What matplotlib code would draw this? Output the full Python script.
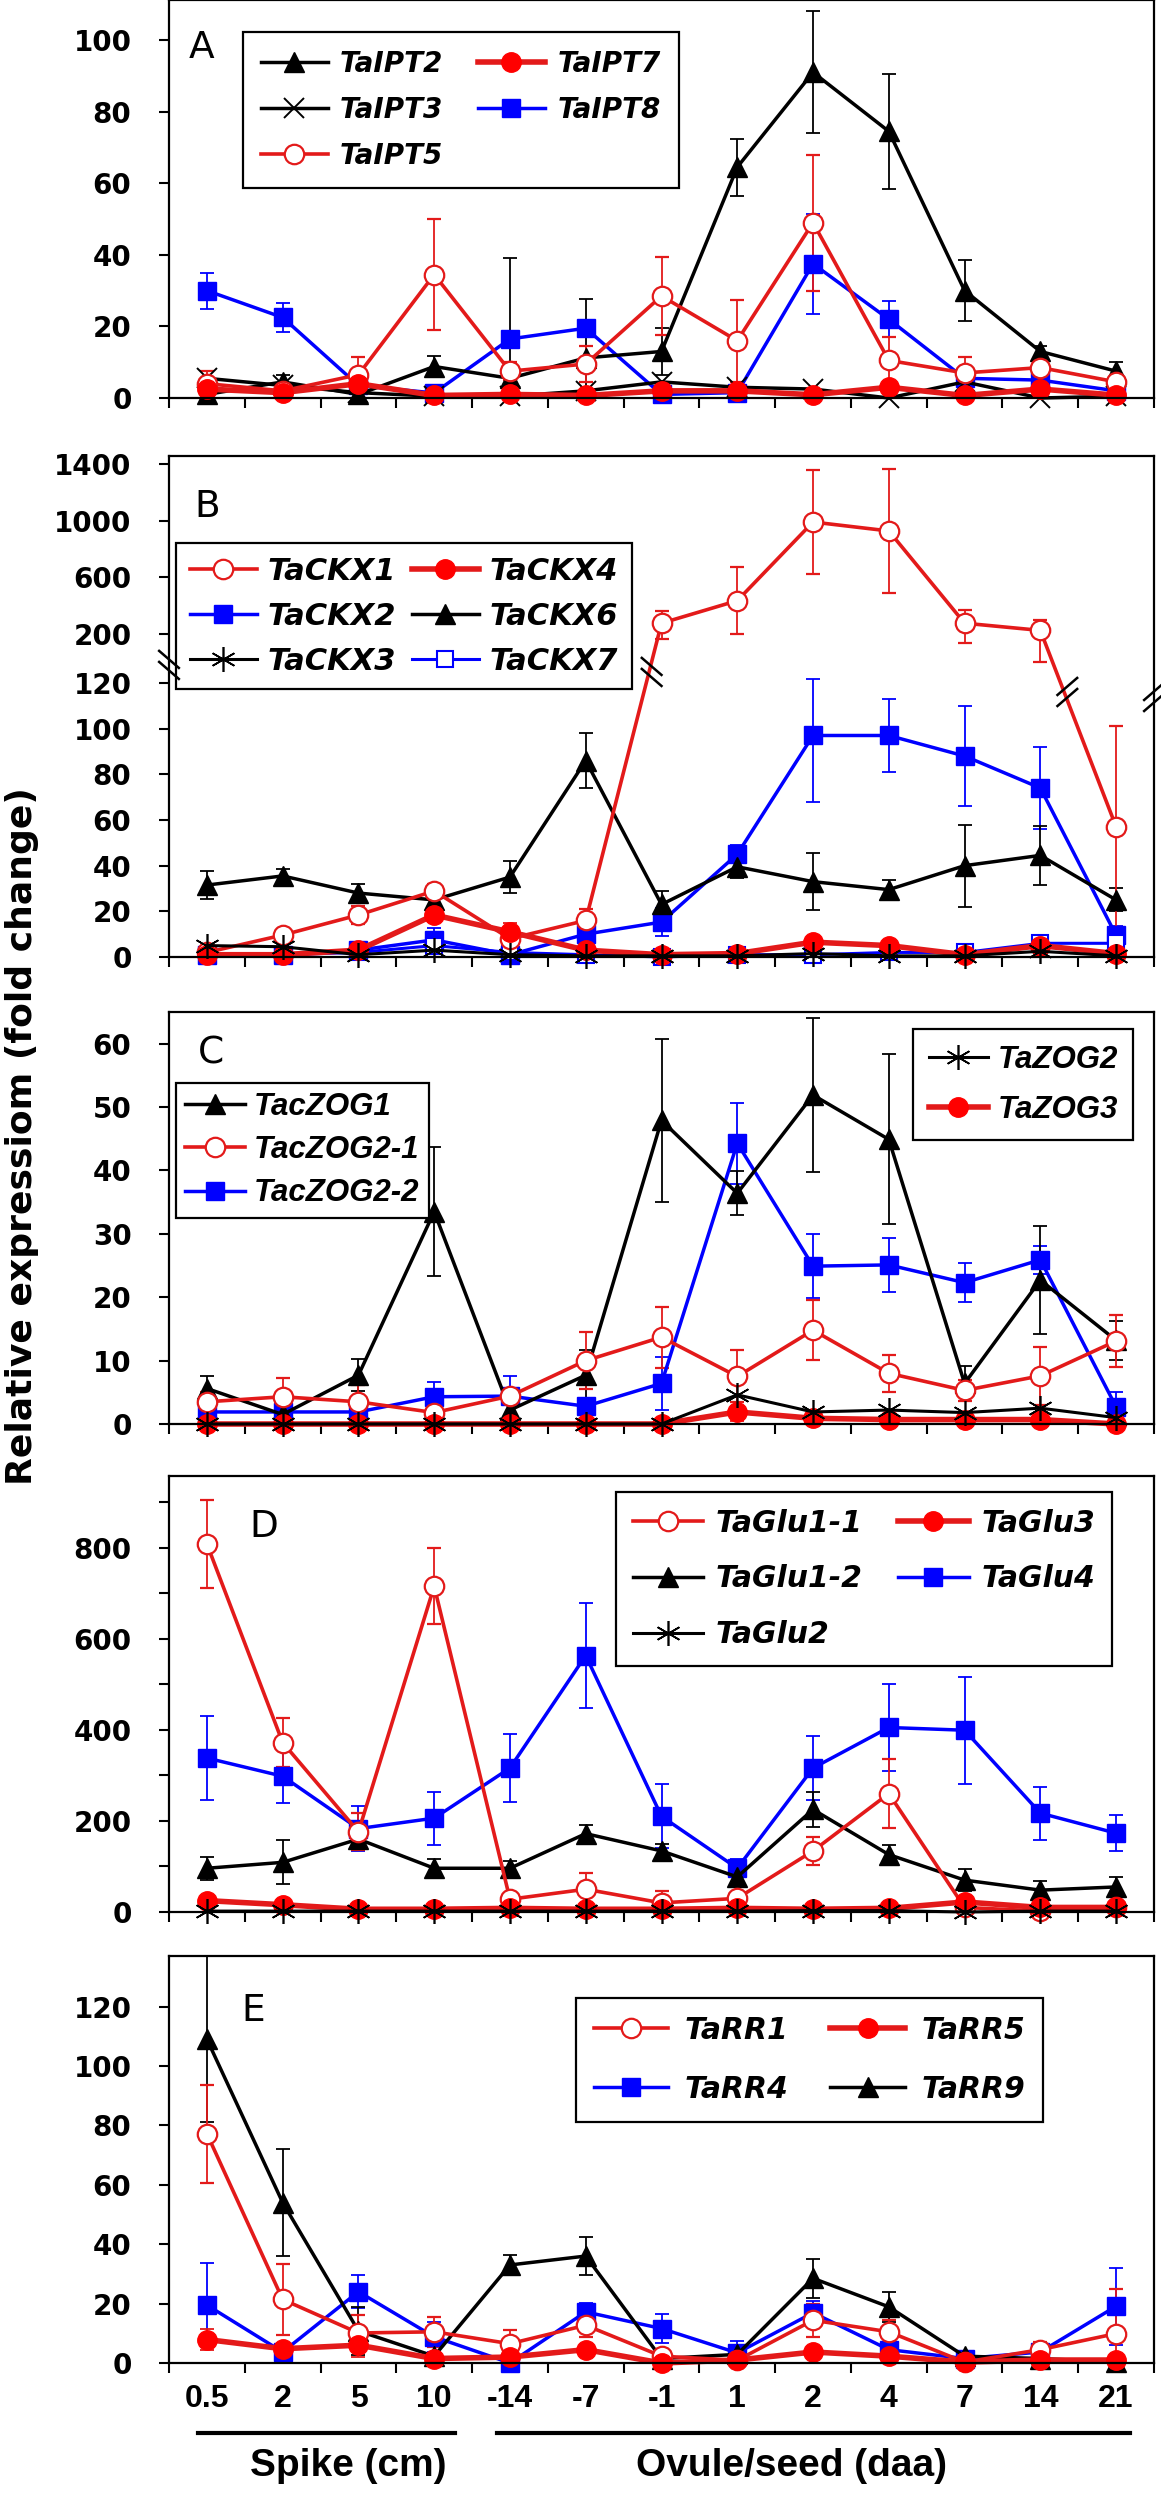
import numpy as np
import matplotlib
matplotlib.use("Agg")
import matplotlib.pyplot as plt
import matplotlib.transforms as mtransforms

plt.rcParams["font.family"] = "DejaVu Sans"
plt.rcParams["font.weight"] = "bold"

stages = ["0.5", "2", "5", "10", "-14", "-7", "-1", "1", "2", "4", "7", "14", "21"]
x = np.arange(len(stages))

# panel A - IPT
ipt2 = [1, 4.5, 1, 8.8, 5.5, 11.2, 13, 64.5, 91, 74.5, 30, 13, 7.5]
ipt2_err = [0, 2, 0, 3, 33.5, 16.5, 6.5, 8, 17, 16, 8.5, 1.5, 2.5]
ipt3 = [5.5, 3.5, 1.5, 0.5, 0.5, 2, 4.5, 3, 2.5, 0, 4.5, 0, 0.5]
ipt5 = [4, 2, 6.5, 34.5, 7.5, 9.5, 28.5, 16, 49, 10.5, 7, 8.5, 4.5]
ipt5_err = [3.5, 1, 5, 15.5, 2.5, 5, 11, 11.5, 19, 6.5, 4.5, 2, 1.5]
ipt7 = [2.5, 1.5, 4, 0.7, 1, 0.7, 2, 2, 0.9, 3, 0.7, 2.5, 0.8]
ipt8 = [30, 22.5, 3.5, 1.4, 16.5, 19.5, 1, 1.5, 37.5, 22, 5.5, 5, 2]
ipt8_err = [5, 4, 1, 1, 2, 2, 1, 1, 14, 5, 2, 2, 1]

# panel B - CKX
ckx1 = [2, 9.6, 18.4, 28.9, 8, 16, 276, 435, 990, 927, 276, 225, 57]
ckx1_err = [1, 2.5, 4, 3, 2, 5, 85, 235, 370, 440, 90, 70, 44]
ckx2 = [1, 1, 3, 7.5, 1, 10, 15.3, 45, 97, 97, 88, 74, 9.5]
ckx2_err = [1, 1, 2, 5, 1, 3, 6, 4, 29, 16, 22, 18, 4]
ckx3 = [5, 4.5, 1, 3, 1, 0.5, 0.5, 0.5, 1.5, 0.5, 0.5, 2.5, 0.5]
ckx4 = [1, 1, 3, 18.4, 11, 3, 1, 1.5, 6.5, 5, 1, 5, 1.5]
ckx4_err = [0.5, 0.5, 1, 3, 4, 1, 1, 1, 1.5, 1, 1, 1, 1]
ckx6 = [31.5, 35.5, 28, 25, 35, 86, 23, 39.5, 33, 29.5, 40, 44.5, 25]
ckx6_err = [6, 3, 4, 3, 7, 12, 6, 5, 12.5, 4, 18, 13, 5]
ckx7 = [1, 1, 2, 5, 2, 1, 0, 1, 1, 2, 2, 6, 6]

# panel C - ZOG
zog1 = [5.6, 1.5, 7.7, 33.5, 2.2, 7.7, 47.9, 36.4, 51.9, 44.9, 6.4, 22.7, 13.2]
zog1_err = [2, 0.5, 2.5, 10.2, 1, 4, 12.8, 3.5, 12.2, 13.4, 2.7, 8.5, 3.1]
zog21 = [3.5, 4.3, 3.5, 1.8, 4.4, 10, 13.7, 7.5, 14.8, 8, 5.3, 7.6, 13.1]
zog21_err = [1.5, 2.9, 2.6, 3, 1, 4.5, 4.8, 4.1, 4.7, 2.9, 1.7, 4.6, 4.1]
zog22 = [1.9, 1.9, 1.9, 4.3, 4.4, 2.8, 6.4, 44.3, 24.9, 25.1, 22.3, 25.9, 2.7]
zog22_err = [0.5, 0.5, 0.5, 2.4, 3.2, 1, 4.2, 6.4, 5, 4.3, 3.1, 2.2, 2.4]
zog2 = [0, 0, 0, 0, 0, 0, 0, 4.6, 1.9, 2.2, 1.8, 2.5, 1]
zog3 = [0, 0, 0, 0, 0, 0, 0, 1.9, 0.9, 0.7, 0.7, 0.7, 0]
zog3_err = [0, 0, 0, 0, 0, 0, 0, 1.5, 0.5, 0.5, 0.5, 0.5, 0]

# panel D - Glu
glu11 = [808, 372, 176, 715, 28, 50, 20, 30, 134, 260, 10, 2, 10]
glu11_err = [97, 53, 41, 83, 10, 35, 25, 10, 30, 75, 5, 5, 5]
glu12 = [96, 109, 160, 96, 96, 172, 134, 77, 225, 126, 70, 48, 55]
glu12_err = [25, 48, 10, 20, 15, 20, 15, 20, 38, 22, 25, 20, 22]
glu2 = [2, 2, 2, 2, 2, 2, 2, 2, 3, 3, 0, 2, 2]
glu3 = [25, 16, 6, 6, 8, 6, 6, 8, 6, 8, 22, 10, 10]
glu4 = [338, 298, 183, 206, 316, 563, 210, 96, 316, 405, 399, 217, 173]
glu4_err = [92, 59, 50, 58, 75, 115, 70, 20, 70, 95, 117, 58, 40]

# panel E - RR
rr1 = [77.2, 21.4, 10.1, 10.5, 6.5, 12.7, 2.3, 0.9, 14.4, 10.5, 0.3, 4.5, 9.9]
rr1_err = [16.5, 12, 6, 5, 4.5, 4, 2, 1, 5.5, 4, 1, 2.5, 15]
rr4 = [19.5, 3.7, 24, 8.8, 0, 17.2, 11.6, 3.4, 16.9, 4.5, 1.5, 3.7, 19.1]
rr4_err = [14, 3, 5.5, 5, 1, 3, 5, 4, 4, 2, 1, 2, 13]
rr5 = [7.9, 4.8, 6, 1.5, 2, 4.5, 0, 1, 3.7, 2.3, 0.3, 1, 1]
rr5_err = [3.5, 1.5, 4, 1, 1, 1, 0.5, 0.5, 1, 1, 0.5, 0.5, 0.5]
rr9 = [109, 54, 10.8, 2.3, 33, 36, 1.5, 2.9, 28.5, 18.9, 2.3, 1.5, 0.3]
rr9_err = [28, 18, 8, 1, 3.5, 6.5, 1, 1, 6.5, 5, 1, 1, 0.5]

RED = "#e31a1a"
BLUE = "#0000ff"
styles = {
    "tri": dict(color="k", marker="^", ms=15, lw=2.5),
    "cross": dict(color="k", marker="x", ms=15, mew=1.4, lw=2.5),
    "star": dict(color="k", marker=(6, 2, 0), ms=18, mew=1.2, lw=2.2),
    "ropen": dict(color=RED, marker="o", ms=14, mfc="white", mec=RED, mew=1.6, lw=2.6),
    "rfill": dict(color=RED, marker="o", ms=14, mfc="red", mec="red", lw=4),
    "bsq": dict(color=BLUE, marker="s", ms=13.5, lw=2.5),
    "bopen": dict(color=BLUE, marker="s", ms=12, mfc="white", mec=BLUE, mew=1.5, lw=2.2),
}

LEG_WIDE = ["DejaVu Sans"]
LEG_NARROW = ["Liberation Sans Narrow", "Liberation Sans", "DejaVu Sans"]


def series(ax, y, err, style):
    kw = dict(styles[style])
    c = ax.errorbar(x, y, yerr=err, capsize=5, elinewidth=1.3, capthick=1.3,
                    ecolor=kw["color"], **kw)
    c[0].set_clip_on(False)
    return c[0]


def legend(ax, handles, labels, ncol, loc, anchor, size=21, family=LEG_WIDE,
           ls=0.6, bp=0.6, hl=2.4, htp=0.45, cs=1.2):
    leg = ax.legend(handles, labels, ncol=ncol, loc=loc, bbox_to_anchor=anchor,
                    prop=dict(family=family, style="italic", weight="bold", size=size),
                    frameon=True, fancybox=False, edgecolor="k", framealpha=1,
                    handlelength=hl, handletextpad=htp, columnspacing=cs,
                    borderpad=bp, labelspacing=ls, borderaxespad=0)
    leg.get_frame().set_linewidth(1.6)
    leg.set_zorder(20)
    return leg


def style_axes(ax, letter, lx, ly):
    ax.set_xlim(-0.5, 12.5)
    ax.set_xticks(np.arange(-0.5, 13, 1))
    ax.set_xticklabels([])
    ax.tick_params(axis="both", which="both", direction="out", length=7, width=1.5, labelsize=20)
    ax.tick_params(axis="y", which="both", pad=20)
    for s in ax.spines.values():
        s.set_linewidth(1.6)
    ax.text(lx, ly, letter, transform=ax.transAxes, fontsize=27, fontweight="normal",
            va="top", ha="left")


def brk(ax, xf, yf, sign):
    for off in (-0.011, 0.011):
        ax.plot([xf - 0.01, xf + 0.01], [yf + off + sign * 0.017, yf + off - sign * 0.017],
                transform=ax.transAxes, color="k", lw=1.8, clip_on=False, zorder=30)


fig = plt.figure(figsize=(11.61, 24.93), dpi=100)
L, W = 169 / 1161, 985 / 1161
H = 2493
axA = fig.add_axes([L, 1 - 398 / H, W, 398 / H])
axB = fig.add_axes([L, 1 - 957 / H, W, 501 / H])
axC = fig.add_axes([L, 1 - 1424 / H, W, 412 / H])
axD = fig.add_axes([L, 1 - 1912 / H, W, 436 / H])
axE = fig.add_axes([L, 1 - 2363 / H, W, 407 / H])

# ---- A
h8 = series(axA, ipt8, ipt8_err, "bsq")
h2 = series(axA, ipt2, ipt2_err, "tri")
h3 = series(axA, ipt3, None, "cross")
h5 = series(axA, ipt5, ipt5_err, "ropen")
h7 = series(axA, ipt7, None, "rfill")
axA.set_ylim(0, 111.2)
axA.set_yticks(np.arange(0, 101, 20))
style_axes(axA, "A", 0.020, 0.925)
legend(axA, [h2, h3, h5, h7, h8], ["TaIPT2", "TaIPT3", "TaIPT5", "TaIPT7", "TaIPT8"],
       2, "upper left", (0.075, 0.92), size=20, ls=0.65, bp=0.65, hl=2.4, htp=0.45, cs=1.25)

# ---- B (broken axis)
bx = np.array([-1000.0, 0, 120, 200, 1400, 100000])
by = np.array([-1000 * 274 / 120, 0, 274, 323, 493, 493 + 98600 * 170 / 1200])
axB.set_yscale("function", functions=(lambda v: np.interp(v, bx, by),
                                      lambda t: np.interp(t, by, bx)))
g2 = series(axB, ckx2, ckx2_err, "bsq")
g7 = series(axB, ckx7, None, "bopen")
g6 = series(axB, ckx6, ckx6_err, "tri")
g1 = series(axB, ckx1, ckx1_err, "ropen")
g4 = series(axB, ckx4, ckx4_err, "rfill")
g3 = series(axB, ckx3, None, "star")
axB.set_ylim(0, 1456)
axB.set_yticks([0, 20, 40, 60, 80, 100, 120, 200, 600, 1000, 1400])
axB.yaxis.set_minor_locator(matplotlib.ticker.NullLocator())
axB.yaxis.set_major_formatter(matplotlib.ticker.FormatStrFormatter("%d"))
style_axes(axB, "B", 0.026, 0.935)
legend(axB, [g1, g2, g3, g4, g6, g7], ["TaCKX1", "TaCKX2", "TaCKX3", "TaCKX4", "TaCKX6", "TaCKX7"],
       2, "upper left", (0.007, 0.826), size=22, ls=0.52, bp=0.45, hl=2.2, htp=0.36, cs=0.5)
brk(axB, 0.0, 0.583, 1)
brk(axB, 0.490, 0.569, 1)
brk(axB, 0.912, 0.529, -1)
brk(axB, 1.0, 0.519, -1)

# ---- C
z22 = series(axC, zog22, zog22_err, "bsq")
z1 = series(axC, zog1, zog1_err, "tri")
z21 = series(axC, zog21, zog21_err, "ropen")
z3 = series(axC, zog3, zog3_err, "rfill")
z2 = series(axC, zog2, None, "star")
axC.set_ylim(0, 65)
axC.set_yticks(np.arange(0, 61, 10))
style_axes(axC, "C", 0.029, 0.942)
legC = legend(axC, [z1, z21, z22], ["TacZOG1", "TacZOG2-1", "TacZOG2-2"], 1, "upper left",
              (0.007, 0.828), size=22.5, family=LEG_NARROW, ls=0.42, bp=0.3, hl=1.9, htp=0.3)
axC.add_artist(legC)
legend(axC, [z2, z3], ["TaZOG2", "TaZOG3"], 1, "upper right", (0.979, 0.959),
       size=22.5, family=LEG_NARROW, ls=0.65, bp=0.5, hl=1.9, htp=0.3)

# ---- D
d4 = series(axD, glu4, glu4_err, "bsq")
d12 = series(axD, glu12, glu12_err, "tri")
d11 = series(axD, glu11, glu11_err, "ropen")
d3 = series(axD, glu3, None, "rfill")
d2 = series(axD, glu2, None, "star")
axD.set_ylim(0, 957)
axD.set_yticks(np.arange(0, 801, 200))
axD.set_yticks(np.arange(100, 1000, 200), minor=True)
style_axes(axD, "D", 0.082, 0.925)
legend(axD, [d11, d12, d2, d3, d4], ["TaGlu1-1", "TaGlu1-2", "TaGlu2", "TaGlu3", "TaGlu4"],
       2, "upper left", (0.454, 0.963), size=21.5, ls=0.9, bp=0.55, hl=2.35, htp=0.43, cs=1.2)

# ---- E
e4 = series(axE, rr4, rr4_err, "bsq")
e9 = series(axE, rr9, rr9_err, "tri")
e1 = series(axE, rr1, rr1_err, "ropen")
e5 = series(axE, rr5, rr5_err, "rfill")
axE.set_ylim(0, 137)
axE.set_yticks(np.arange(0, 121, 20))
style_axes(axE, "E", 0.073, 0.91)
legend(axE, [e1, e4, e5, e9], ["TaRR1", "TaRR4", "TaRR5", "TaRR9"], 2, "upper left",
       (0.413, 0.897), size=21.5, ls=1.0, bp=0.6, hl=2.5, htp=0.55, cs=1.4)

axE.set_xticks(x, minor=True)
axE.set_xticklabels(stages, minor=True, fontsize=23, fontweight="bold",
                    family=["Liberation Sans Narrow", "Liberation Sans", "DejaVu Sans"])
axE.tick_params(axis="x", which="minor", length=0, pad=15)

trans = mtransforms.blended_transform_factory(axE.transData, axE.transAxes)
axE.plot([-0.117, 3.27], [-0.172, -0.172], transform=trans, clip_on=False, color="k", lw=3)
axE.plot([3.83, 12.18], [-0.172, -0.172], transform=trans, clip_on=False, color="k", lw=3)
axE.text(1.86, -0.253, "Spike (cm)", transform=trans, ha="center", va="center",
         fontsize=28, fontweight="bold", family=["Liberation Sans", "DejaVu Sans"])
axE.text(7.72, -0.253, "Ovule/seed (daa)", transform=trans, ha="center", va="center",
         fontsize=28, fontweight="bold", family=["Liberation Sans", "DejaVu Sans"])

fig.text(0.019, 1 - 1136 / H, "Relative expressiom (fold change)", rotation=90,
         ha="center", va="center", fontsize=26, fontweight="bold")

fig.savefig("out.png", dpi=100)
